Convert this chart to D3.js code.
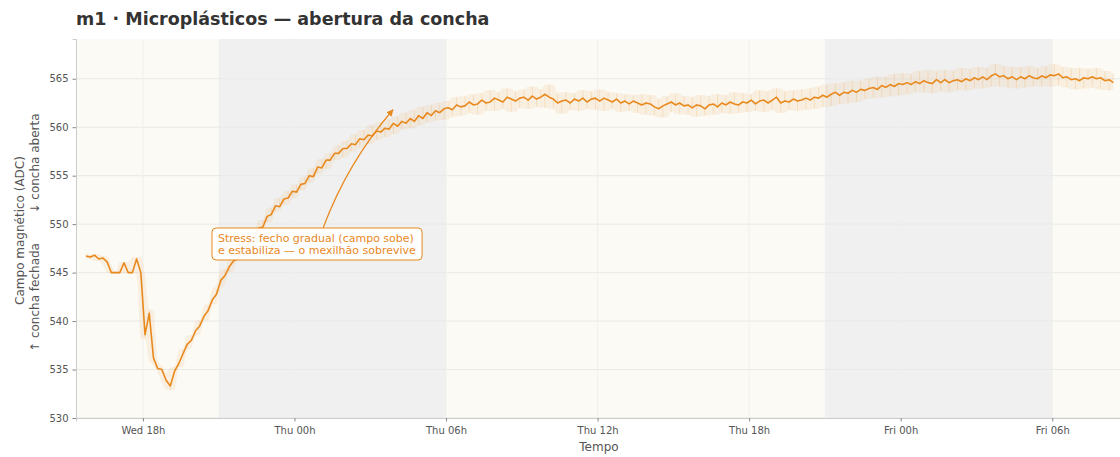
<!DOCTYPE html>
<html>
<head>
<meta charset="utf-8">
<script src="https://cdn.jsdelivr.net/npm/d3@7"></script>
<style>
  html, body { margin: 0; padding: 0; background: #ffffff; }
  svg { display: block; font-family: "DejaVu Sans", sans-serif; }
</style>
</head>
<body>
<svg id="chart" width="1120" height="457"></svg>
<script>
// ---------------- DATA ----------------
const titleText = "m1 · Microplásticos — abertura da concha";
const xDomain = ["2024-01-17T15:21", "2024-01-19T08:41"];
const seriesStart = "2024-01-17T15:45";   // first sample
const stepMinutes = 10;                    // sampling interval of the arrays below
const nights = [
  ["2024-01-17T21:00", "2024-01-18T06:00"],
  ["2024-01-18T21:00", "2024-01-19T06:00"]
];
const yTicks = [530, 535, 540, 545, 550, 555, 560, 565];
const yDomain = [530, 569.1];

// smoothed magnetic field (ADC)
const smoothValues = [
  546.7, 546.6, 546.8, 546.4, 546.5, 546.1, 545.0, 545.0, 545.0, 546.0, 545.0, 545.0,
  546.4, 545.0, 538.6, 540.8, 536.2, 535.1, 535.0, 533.9, 533.3, 534.8, 535.6, 536.6,
  537.6, 538.0, 539.0, 539.5, 540.5, 541.1, 542.2, 542.8, 544.2, 544.7, 545.6, 546.2,
  546.4, 547.4, 547.5, 548.5, 548.5, 549.6, 549.7, 550.8, 551.0, 551.9, 551.8, 552.6,
  552.7, 553.4, 553.3, 554.1, 554.2, 555.0, 554.9, 555.9, 555.8, 556.6, 556.6, 557.3,
  557.3, 557.8, 557.8, 558.3, 558.2, 558.8, 558.7, 559.2, 559.1, 559.6, 559.5, 559.9,
  559.8, 560.4, 560.1, 560.6, 560.4, 560.9, 560.6, 561.2, 560.9, 561.5, 561.2, 561.7,
  561.5, 561.9, 562.0, 561.8, 562.3, 562.1, 562.2, 562.6, 562.3, 562.4, 562.8, 562.5,
  562.6, 563.0, 562.8, 562.6, 563.1, 562.9, 562.7, 563.0, 563.1, 562.8, 563.2, 562.9,
  563.1, 563.4, 563.1, 562.9, 562.5, 562.7, 562.8, 562.5, 562.9, 562.7, 563.0, 562.6,
  562.9, 563.0, 562.7, 563.0, 562.8, 562.6, 562.9, 562.5, 562.7, 562.4, 562.7, 562.5,
  562.3, 562.5, 562.4, 562.1, 561.9, 562.2, 562.4, 562.6, 562.3, 562.5, 562.2, 562.3,
  562.0, 562.3, 562.2, 561.9, 562.3, 562.4, 562.1, 562.5, 562.3, 562.6, 562.4, 562.3,
  562.6, 562.5, 562.8, 562.4, 562.7, 562.8, 562.5, 562.8, 563.1, 562.5, 562.7, 562.6,
  562.9, 562.7, 562.8, 563.0, 562.8, 563.1, 563.0, 563.3, 563.1, 563.4, 563.6, 563.3,
  563.6, 563.5, 563.8, 563.6, 563.9, 563.8, 564.0, 564.1, 563.9, 564.3, 564.1, 564.4,
  564.2, 564.5, 564.4, 564.6, 564.4, 564.7, 564.5, 564.8, 564.6, 564.5, 564.9, 564.6,
  564.9, 564.6, 564.8, 564.9, 564.7, 565.0, 564.8, 565.1, 564.9, 565.2, 564.9, 565.3,
  565.5, 565.2, 565.3, 565.0, 565.2, 564.9, 565.2, 565.0, 565.3, 565.1, 565.0, 565.3,
  565.1, 565.4, 565.3, 565.5, 565.1, 565.2, 564.9, 565.0, 564.8, 565.1, 565.0, 565.2,
  565.0, 565.1, 564.8, 564.9, 564.6
];

// raw readings (faint band)
const rawValues = [
  546.9, 546.4, 546.9, 546.2, 546.7, 545.8, 545.0, 544.9, 545.1, 546.1, 544.9, 545.0,
  546.6, 544.8, 538.2, 541.2, 535.9, 535.4, 534.7, 533.6, 532.9, 535.2, 535.3, 537.0,
  537.2, 538.5, 538.6, 540.0, 540.1, 541.6, 541.8, 543.3, 543.8, 545.3, 545.1, 546.8,
  547.1, 546.8, 548.2, 547.9, 549.3, 549.0, 550.4, 550.2, 551.7, 551.3, 552.7, 552.0,
  553.4, 552.7, 554.1, 553.5, 554.9, 554.3, 555.8, 555.2, 556.7, 555.7, 557.3, 556.6,
  558.1, 556.9, 558.6, 557.5, 559.3, 557.9, 559.7, 558.3, 560.2, 558.7, 560.5, 559.0,
  560.8, 559.3, 561.1, 559.8, 561.5, 559.9, 561.8, 560.2, 562.1, 560.5, 562.3, 560.7,
  562.5, 560.8, 562.7, 561.1, 563.1, 561.2, 563.2, 561.5, 563.4, 561.3, 563.5, 561.7,
  563.8, 561.7, 563.6, 561.9, 564.0, 561.6, 563.7, 562.0, 563.9, 561.9, 564.2, 562.1,
  563.9, 562.0, 564.4, 561.9, 563.5, 561.4, 563.6, 561.8, 563.5, 561.7, 563.8, 561.9,
  563.7, 561.8, 563.9, 561.7, 563.6, 561.9, 563.5, 561.6, 563.4, 561.7, 563.3, 561.5,
  563.4, 561.3, 563.3, 561.2, 562.9, 561.0, 563.2, 561.6, 563.5, 561.4, 563.2, 561.3,
  563.1, 561.1, 563.3, 561.2, 563.2, 561.3, 563.4, 561.5, 563.3, 561.4, 563.6, 561.5,
  563.5, 561.6, 563.4, 561.7, 563.8, 561.6, 563.7, 561.8, 564.0, 561.5, 563.7, 561.8,
  563.8, 561.7, 563.9, 561.8, 564.0, 561.9, 564.2, 562.1, 564.4, 562.2, 564.5, 562.4,
  564.6, 562.5, 564.8, 562.6, 564.8, 562.9, 565.0, 563.0, 565.2, 563.1, 565.2, 563.2,
  565.5, 563.3, 565.6, 563.4, 565.5, 563.6, 565.8, 563.6, 565.9, 563.5, 565.8, 563.7,
  565.9, 563.6, 565.8, 563.8, 566.1, 563.8, 566.0, 564.0, 566.2, 564.0, 566.1, 564.2,
  566.5, 564.2, 566.3, 564.1, 566.2, 564.0, 566.2, 564.1, 566.3, 564.2, 566.1, 564.2,
  566.3, 564.2, 566.5, 564.3, 566.2, 564.1, 566.1, 563.9, 566.1, 564.0, 566.0, 564.1,
  566.1, 563.9, 565.8, 563.8, 565.5
];

// annotation
const annotLines = ["Stress: fecho gradual (campo sobe)", "e estabiliza — o mexilhão sobrevive"];
const annotBoxAt = ["2024-01-17T20:44", 549.6];   // top-left corner of the label box
const annotArrowFrom = ["2024-01-18T01:08", 549.6]; // arrow tail on top edge of box
const annotArrowTo = ["2024-01-18T03:54", 561.8];   // arrow head

const xLabel = "Tempo";
const yLabel1 = "Campo magnético (ADC)";
const yLabel2a = "↑ concha fechada";
const yLabel2b = "↓ concha aberta";

// ---------------- CHART ----------------
const W = 1120, H = 457;
const M = { left: 76, top: 39, right: 0, bottom: 39 };
const iw = W - M.left - M.right, ih = H - M.top - M.bottom;
const parse = d3.timeParse("%Y-%m-%dT%H:%M");
const orange = "#E8891E";

const start = parse(seriesStart);
const times = smoothValues.map((_, i) => d3.timeMinute.offset(start, i * stepMinutes));
const smooth = smoothValues.map((v, i) => ({ t: times[i], v }));
const raw = rawValues.map((v, i) => ({ t: times[i], v, s: smoothValues[i],
  lo: Math.min(v, rawValues[Math.max(0, i - 1)], rawValues[Math.min(rawValues.length - 1, i + 1)]),
  hi: Math.max(v, rawValues[Math.max(0, i - 1)], rawValues[Math.min(rawValues.length - 1, i + 1)]) }));

const x = d3.scaleTime().domain(xDomain.map(parse)).range([0, iw]);
const y = d3.scaleLinear().domain(yDomain).range([ih, 0]);

const svg = d3.select("#chart");

svg.append("text")
  .attr("x", M.left).attr("y", 25)
  .attr("font-size", 17.5).attr("font-weight", "bold").attr("fill", "#333")
  .text(titleText);

const g = svg.append("g").attr("transform", `translate(${M.left},${M.top})`);

svg.append("defs").append("clipPath").attr("id", "clip")
  .append("rect").attr("width", iw).attr("height", ih);

// background
g.append("rect").attr("width", iw).attr("height", ih).attr("fill", "#fbfaf5");
// night shading
g.append("g").selectAll("rect").data(nights).join("rect")
  .attr("x", d => x(parse(d[0])))
  .attr("width", d => x(parse(d[1])) - x(parse(d[0])))
  .attr("y", 0).attr("height", ih)
  .attr("fill", "#f0f0f0");

// grid
const xTicks = x.ticks(d3.timeHour.every(6));
g.append("g").selectAll("line").data(yTicks).join("line")
  .attr("x1", 0).attr("x2", iw)
  .attr("y1", d => y(d)).attr("y2", d => y(d))
  .attr("stroke", "#e9e9e6").attr("stroke-width", 1);
g.append("g").selectAll("line").data(xTicks).join("line")
  .attr("y1", 0).attr("y2", ih)
  .attr("x1", d => x(d)).attr("x2", d => x(d))
  .attr("stroke", "#efefec").attr("stroke-width", 1);

// axes
const xAxis = g.append("g").attr("transform", `translate(0,${ih})`)
  .call(d3.axisBottom(x).tickValues(xTicks).tickFormat(d3.timeFormat("%a %Hh")).tickSize(3.5).tickPadding(5));
const yAxis = g.append("g")
  .call(d3.axisLeft(y).tickValues(yTicks).tickSize(3.5).tickPadding(4));
[xAxis, yAxis].forEach(a => {
  a.select(".domain").attr("stroke", "#cccccc");
  a.selectAll(".tick line").attr("stroke", "#888");
  a.selectAll(".tick text").attr("fill", "#555").attr("font-size", 10)
    .attr("font-family", "DejaVu Sans, sans-serif");
});

// data
const plot = g.append("g").attr("clip-path", "url(#clip)");
const line = d3.line().x(d => x(d.t)).y(d => y(d.v));
const band = d3.area().x(d => x(d.t)).y0(d => y(d.lo)).y1(d => y(d.hi)).curve(d3.curveMonotoneX);
plot.append("path").datum(raw)
  .attr("d", band).attr("fill", "#f2b26a").attr("fill-opacity", 0.14);
plot.append("g").selectAll("line").data(raw).join("line")
  .attr("x1", d => x(d.t)).attr("x2", d => x(d.t))
  .attr("y1", d => y(d.s)).attr("y2", d => y(d.v))
  .attr("stroke", "#f0a650").attr("stroke-opacity", 0.24).attr("stroke-width", 1);
plot.append("path").datum(smooth)
  .attr("d", line).attr("fill", "none")
  .attr("stroke", orange).attr("stroke-width", 1.6).attr("stroke-linejoin", "round");

// annotation arrow
const p0 = [x(parse(annotArrowFrom[0])), y(annotArrowFrom[1])];
const p2 = [x(parse(annotArrowTo[0])), y(annotArrowTo[1])];
const dx = p2[0] - p0[0], dy = p2[1] - p0[1];
const len = Math.hypot(dx, dy);
const bend = 0.09 * len;
const c = [(p0[0] + p2[0]) / 2 + bend * (dy / len), (p0[1] + p2[1]) / 2 - bend * (dx / len)];
const defs = svg.select("defs");
defs.append("marker").attr("id", "ah").attr("viewBox", "0 0 10 10")
  .attr("refX", 9).attr("refY", 5).attr("markerWidth", 7).attr("markerHeight", 7)
  .attr("markerUnits", "userSpaceOnUse").attr("orient", "auto")
  .append("path").attr("d", "M0,0 L10,5 L0,10 z").attr("fill", orange);
g.append("path")
  .attr("d", `M${p0[0]},${p0[1]} Q${c[0]},${c[1]} ${p2[0]},${p2[1]}`)
  .attr("fill", "none").attr("stroke", orange).attr("stroke-width", 1.2)
  .attr("marker-end", "url(#ah)");

// annotation box
const bx = x(parse(annotBoxAt[0])), by = y(annotBoxAt[1]);
const ag = g.append("g").attr("transform", `translate(${bx},${by})`);
const boxRect = ag.append("rect").attr("rx", 4).attr("ry", 4)
  .attr("fill", "#ffffff").attr("fill-opacity", 0.92)
  .attr("stroke", orange).attr("stroke-width", 1);
const at = ag.append("text").attr("font-size", 11).attr("fill", orange);
annotLines.forEach((l, i) => {
  at.append("tspan").attr("x", 6).attr("y", 13.5 + i * 12.5).text(l);
});
const bb = at.node().getBBox();
boxRect.attr("x", 0).attr("y", 0).attr("width", bb.width + 12).attr("height", 32);

// axis labels
svg.append("text")
  .attr("x", M.left + iw / 2 + 1).attr("y", 451)
  .attr("text-anchor", "middle").attr("font-size", 12).attr("fill", "#555")
  .text(xLabel);
const yl = svg.append("g").attr("transform", `translate(0,${M.top + ih / 2}) rotate(-90)`);
yl.append("text").attr("x", -2).attr("y", 24).attr("text-anchor", "middle")
  .attr("font-size", 12).attr("fill", "#555").text(yLabel1);
yl.append("text").attr("x", -69).attr("y", 38.5).attr("text-anchor", "middle")
  .attr("font-size", 12).attr("fill", "#555").text(yLabel2a);
yl.append("text").attr("x", 65).attr("y", 38.5).attr("text-anchor", "middle")
  .attr("font-size", 12).attr("fill", "#555").text(yLabel2b);
</script>
</body>
</html>
